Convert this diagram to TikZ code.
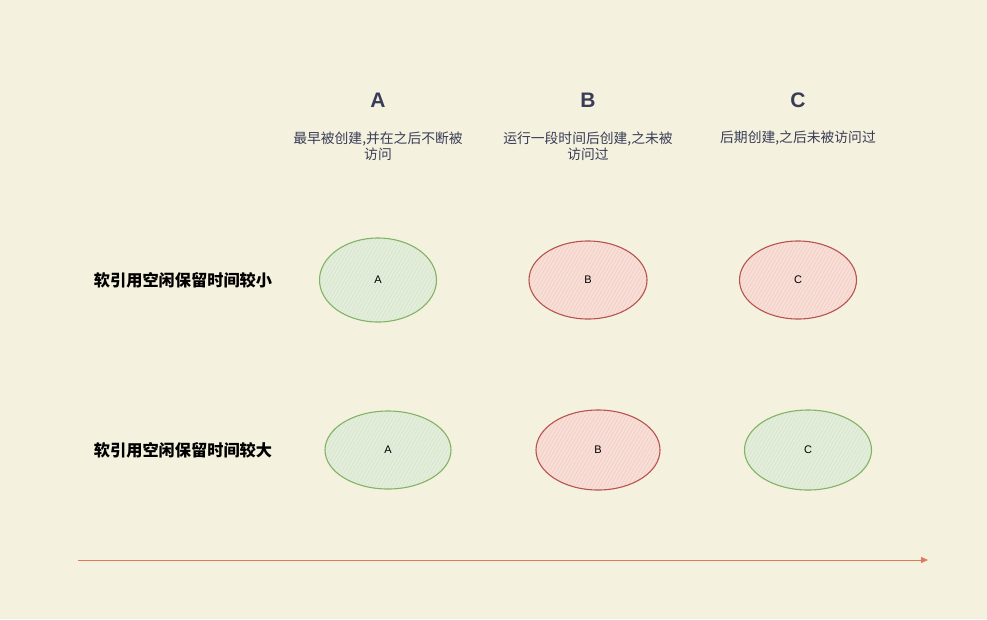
\documentclass[tikz,border=0pt]{standalone}
\usepackage{fontspec}
\setmainfont{Liberation Sans}
\newfontfamily\cjk{Noto Sans CJK SC}
\usetikzlibrary{arrows.meta, positioning, shapes.geometric, patterns.meta}
\definecolor{PaperBg}{RGB}{244, 241, 222}
\definecolor{TitleInk}{RGB}{57, 60, 86}
\definecolor{KeepGreen}{RGB}{130, 179, 102}
\definecolor{KeepFill}{RGB}{213, 232, 212}
\definecolor{DropRed}{RGB}{184, 84, 80}
\definecolor{DropFill}{RGB}{248, 206, 204}
\definecolor{TimeArrow}{RGB}{224, 122, 95}

\tikzset{
  objkeep/.style={ellipse, draw=KeepGreen, line width=1.1pt, inner sep=0pt,
    preaction={fill=KeepFill!45!PaperBg},
    pattern={Lines[angle=60, distance=3pt, line width=0.9pt]}, pattern color=KeepFill,
    font=\fontsize{11}{13}\selectfont},
  objdrop/.style={ellipse, draw=DropRed, line width=1.1pt, inner sep=0pt,
    preaction={fill=DropFill!45!PaperBg},
    pattern={Lines[angle=60, distance=3pt, line width=0.9pt]}, pattern color=DropFill,
    font=\fontsize{11}{13}\selectfont},
  coltitle/.style={font=\bfseries\fontsize{21}{24}\selectfont, text=TitleInk},
  colnote/.style={font=\cjk\fontsize{13.8}{16}\selectfont, text=TitleInk, align=center},
  rowlabel/.style={font=\cjk\bfseries\fontsize{16.2}{18}\selectfont}
}

\begin{document}
\begin{tikzpicture}[x=1pt, y=-1pt]
  \fill[PaperBg] (0,0) rectangle (987,619);
  \useasboundingbox (0,0) rectangle (987,619);

  % column heads
  \node[coltitle] (headA) at (378,100) {A};
  \node[coltitle] (headB) at (588,100) {B};
  \node[coltitle] (headC) at (798,100) {C};
  \node[colnote] (noteA) at (378,146) {最早被创建,并在之后不断被\\访问};
  \node[colnote] (noteB) at (588,146) {运行一段时间后创建,之未被\\访问过};
  \node[colnote] (noteC) at (798,138) {后期创建,之后未被访问过};

  % rows
  \node[rowlabel] (rowSmall) at (183,280) {软引用空闲保留时间较小};
  \node[rowlabel] (rowLarge) at (183,450) {软引用空闲保留时间较大};

  \node[objkeep, minimum width=117, minimum height=84] (smallA) at (378,280) {A};
  \node[objdrop, minimum width=118, minimum height=78] (smallB) at (588,280) {B};
  \node[objdrop, minimum width=117, minimum height=78] (smallC) at (798,280) {C};

  \node[objkeep, minimum width=126, minimum height=78] (largeA) at (388,450) {A};
  \node[objdrop, minimum width=124, minimum height=80] (largeB) at (598,450) {B};
  \node[objkeep, minimum width=127, minimum height=80] (largeC) at (808,450) {C};

  % time axis
  \coordinate (timeStart) at (78,560);
  \coordinate (timeEnd) at (928,560);
  \draw[TimeArrow, line width=1pt, -{Triangle[length=7pt, width=6pt]}] (timeStart) -- (timeEnd);
\end{tikzpicture}
\end{document}
